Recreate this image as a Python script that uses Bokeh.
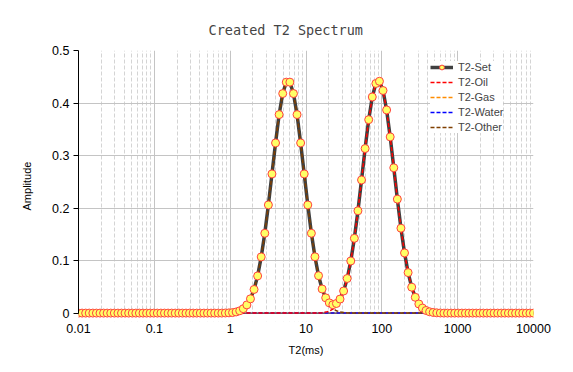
import numpy as np
from bokeh.plotting import figure
from bokeh.models import (Range1d, FixedTicker, Legend, LegendItem, Span,
                          BoxAnnotation, ColumnDataSource)
from bokeh.embed import file_html
from bokeh.resources import INLINE

# ---------------- data ----------------
T2_MIN, T2_MAX, N_BINS = 0.01, 10000.0, 128
t2 = np.logspace(np.log10(T2_MIN), np.log10(T2_MAX), N_BINS)

# amplitudes per bin, bins 0..127
t2_oil = [0.0] * 66 + [
    0.00016, 0.00038, 0.00087, 0.00188, 0.00385, 0.0075, 0.0139, 0.0245,
    0.0411, 0.0654, 0.0990, 0.1424, 0.1948, 0.2535, 0.3133, 0.3683,
    0.4115, 0.4372, 0.4414, 0.4238, 0.3868, 0.3355, 0.2767, 0.2170,
    0.1617, 0.1146, 0.0771, 0.0494, 0.0301, 0.0174, 0.0096, 0.0050,
    0.0025, 0.0012, 0.0005, 0.0002,
] + [0.0] * 26

t2_other = [0.0] * 41 + [
    0.0002, 0.00045, 0.0010, 0.0022, 0.0044, 0.0084, 0.0156, 0.0272,
    0.0450, 0.0708, 0.1070, 0.1520, 0.2060, 0.2650, 0.3240, 0.3780,
    0.4180, 0.4397, 0.4397, 0.4180, 0.3780, 0.3240, 0.2650, 0.2060,
    0.1520, 0.1070, 0.0708, 0.0450, 0.0272, 0.0156, 0.0084, 0.0044,
    0.0022, 0.0010, 0.00045, 0.0002,
] + [0.0] * 51

t2_set = [0.0] * 41 + [
    0.0002, 0.00045, 0.0010, 0.0022, 0.0044, 0.0084, 0.0156, 0.0272,
    0.0450, 0.0708, 0.1070, 0.1520, 0.2060, 0.2650, 0.3240, 0.3780,
    0.4180, 0.4397, 0.4397, 0.4180, 0.3780, 0.3240, 0.2650, 0.2060,
    0.1520, 0.1072, 0.0712, 0.0459, 0.0291, 0.0195, 0.0159, 0.0183,
    0.0267, 0.0421, 0.0659, 0.0992, 0.1424, 0.1948, 0.2535, 0.3133,
    0.3683, 0.4115, 0.4372, 0.4414, 0.4238, 0.3868, 0.3355, 0.2767,
    0.2170, 0.1617, 0.1146, 0.0771, 0.0494, 0.0301, 0.0174, 0.0096,
    0.0050, 0.0025, 0.0012, 0.0005, 0.0002,
] + [0.0] * 26

t2_gas = [0.0] * N_BINS
t2_water = [0.0] * N_BINS

x_ticks = [0.01, 0.1, 1, 10, 100, 1000, 10000]
x_tick_labels = ["0.01", "0.1", "1", "10", "100", "1000", "10000"]
y_ticks = [0.0, 0.1, 0.2, 0.3, 0.4, 0.5]
y_tick_labels = ["0", "0.1", "0.2", "0.3", "0.4", "0.5"]

src = ColumnDataSource(dict(t2=t2, set=t2_set, oil=t2_oil, gas=t2_gas,
                            water=t2_water, other=t2_other))

# ---------------- figure ----------------
Y_PAD = -0.016
p = figure(width=557, height=356, x_axis_type="log",
           x_range=Range1d(x_ticks[0], x_ticks[-1]),
           y_range=Range1d(Y_PAD, y_ticks[-1]),
           output_backend="svg", toolbar_location=None,
           min_border_left=78, min_border_right=24,
           min_border_top=50, min_border_bottom=35,
           title="Created T2 Spectrum")
p.frame_width = 455
p.frame_height = 271
p.outline_line_color = None
p.background_fill_color = "white"
p.border_fill_color = "white"

p.title.text_font = "DejaVu Sans Mono"
p.title.text_font_size = "13.5px"
p.title.text_font_style = "normal"
p.title.align = "left"
p.title.offset = 130
p.title.standoff = 22
p.title.vertical_align = "top"

# ticks
minor = [m * d for d in x_ticks[:-1] for m in range(2, 10)]
p.xaxis.ticker = FixedTicker(ticks=x_ticks, minor_ticks=minor)
p.xaxis.major_label_overrides = {t: l for t, l in zip(x_ticks, x_tick_labels)}
p.yaxis.ticker = FixedTicker(ticks=y_ticks)
p.yaxis.major_label_overrides = {t: l for t, l in zip(y_ticks, y_tick_labels)}

for ax in (p.xaxis[0], p.yaxis[0]):
    ax.major_label_text_font = "Liberation Sans"
    ax.major_label_text_font_size = "12.5px"
    ax.major_label_text_color = "black"
    ax.axis_label_text_font = "Liberation Sans"
    ax.axis_label_text_font_size = "11px"
    ax.axis_label_text_font_style = "normal"
    ax.axis_label_text_color = "black"
    ax.minor_tick_in = 0
    ax.minor_tick_out = 0
    ax.major_tick_in = 0

p.xaxis.axis_label = "T2(ms)"
p.xaxis.axis_line_color = None
p.xaxis.major_tick_out = 0
p.xaxis.major_label_standoff = 2
p.xaxis.axis_label_standoff = 8

p.yaxis.axis_label = "Amplitude"
p.yaxis.axis_line_color = "black"
p.yaxis.major_tick_out = 5
p.yaxis.major_tick_line_color = "black"
p.yaxis.major_label_standoff = 4
p.yaxis.axis_label_standoff = 16
p.yaxis.bounds = (y_ticks[0], y_ticks[-1])

# grids
p.xgrid.grid_line_color = "#c4c4c4"
p.xgrid.minor_grid_line_color = "#d4d4d4"
p.xgrid.minor_grid_line_dash = "4 2"
p.ygrid.grid_line_color = "#c4c4c4"

# cover the padding strip below zero and draw the zero axis line
p.add_layout(BoxAnnotation(top=0, fill_color="white", fill_alpha=1,
                           line_color=None, level="underlay"))
p.add_layout(Span(location=0, dimension="width", line_color="black",
                  line_width=1, level="underlay"))

# series
r_gas = p.line("t2", "gas", source=src, line_color="#ff8c00",
               line_width=1.5, line_dash="4 2")
r_water = p.line("t2", "water", source=src, line_color="#0000ff",
                 line_width=1.5, line_dash="4 2")
r_set_line = p.line("t2", "set", source=src, line_color="#404040",
                    line_width=3.5)
r_oil = p.line("t2", "oil", source=src, line_color="#ff0000",
               line_width=1.5, line_dash="4 2")
r_other = p.line("t2", "other", source=src, line_color="#7f3f00",
                 line_width=1.5, line_dash="4 2")
r_set_pts = p.scatter("t2", "set", source=src, size=8, marker="circle",
                      fill_color="#ffff66", line_color="#ff4040",
                      line_width=1)

legend = Legend(items=[
    LegendItem(label="T2-Set", renderers=[r_set_line, r_set_pts]),
    LegendItem(label="T2-Oil", renderers=[r_oil]),
    LegendItem(label="T2-Gas", renderers=[r_gas]),
    LegendItem(label="T2-Water", renderers=[r_water]),
    LegendItem(label="T2-Other", renderers=[r_other]),
], location=(352, 188))
legend.label_text_font = "Liberation Sans"
legend.label_text_font_size = "11px"
legend.label_height = 12
legend.glyph_height = 12
legend.glyph_width = 23
legend.label_standoff = 5
legend.spacing = 3
legend.padding = 4
legend.margin = 0
legend.border_line_color = None
legend.background_fill_color = "white"
legend.background_fill_alpha = 1
p.add_layout(legend)

open("out.html", "w").write(file_html(p, INLINE))
